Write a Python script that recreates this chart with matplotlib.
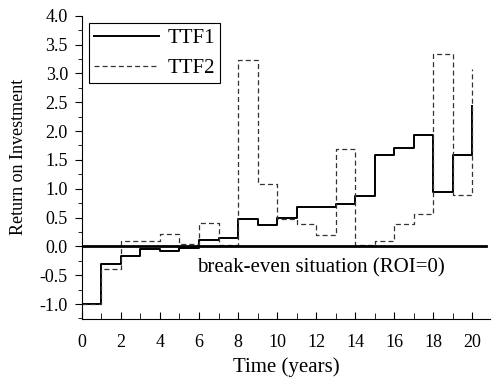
import numpy as np
import matplotlib
matplotlib.use('Agg')
import matplotlib.pyplot as plt
from matplotlib.ticker import MultipleLocator, FormatStrFormatter

plt.rcParams['font.family'] = 'Liberation Serif'
plt.rcParams['axes.unicode_minus'] = False

# years 0..20, value holds for [k, k+1], last point is the final value at year 20
years = list(range(21))
ttf1 = [-1.0, -0.30, -0.16, -0.05, -0.075, -0.03, 0.11, 0.15, 0.475, 0.37,
        0.49, 0.69, 0.68, 0.73, 0.88, 1.59, 1.71, 1.94, 0.94, 1.59, 2.43]
ttf2 = [-1.0, -0.39, 0.10, 0.10, 0.22, 0.035, 0.40, 0.02, 3.24, 1.08,
        0.47, 0.38, 0.19, 1.69, 0.02, 0.09, 0.38, 0.57, 3.34, 0.89, 3.07]

fig = plt.figure(figsize=(4.93, 3.8), dpi=100)
ax = fig.add_axes([0.166, 0.1605, 0.828, 0.798])

ax.plot(years, ttf1, drawstyle='steps-post', color='black', lw=1.4, label='TTF1')
ax.plot(years, ttf2, drawstyle='steps-post', color='#333333', lw=0.9,
        linestyle=(0, (4, 2.5)), label='TTF2')
ax.axhline(0, xmin=0, xmax=20.7 / 20.9, color='black', lw=2)

ax.text(5.9, -0.38, 'break-even situation (ROI=0)', fontsize=15, va='center', ha='left')

ax.set_xlim(0, 20.9)
ax.set_ylim(-1.26, 4.0)
ax.spines['top'].set_visible(False)
ax.spines['right'].set_visible(False)

ax.xaxis.set_major_locator(MultipleLocator(2))
ax.xaxis.set_minor_locator(MultipleLocator(1))
ax.yaxis.set_major_locator(MultipleLocator(0.5))
ax.yaxis.set_minor_locator(MultipleLocator(0.25))
ax.yaxis.set_major_formatter(FormatStrFormatter('%.1f'))
ax.tick_params(axis='x', which='both', direction='in', labelsize=13, pad=11)
ax.tick_params(axis='x', which='major', length=5)
ax.tick_params(axis='x', which='minor', length=4)
ax.tick_params(axis='y', which='both', direction='out', labelsize=13, pad=5)
ax.tick_params(axis='y', which='major', length=5)
ax.tick_params(axis='y', which='minor', length=3)

ax.set_xlabel('Time (years)', fontsize=15, labelpad=4)
ax.set_ylabel('Return on Investment', fontsize=13)
ax.yaxis.set_label_coords(-0.135, 0.535)

leg = ax.legend(loc='upper left', fontsize=15, handlelength=3.1, handletextpad=0.4,
                fancybox=False, edgecolor='black', framealpha=1,
                bbox_to_anchor=(0.0, 1.0), borderaxespad=0.35, borderpad=0.25,
                labelspacing=0.5)
leg.get_frame().set_linewidth(0.8)

fig.savefig('out.png', dpi=100)
